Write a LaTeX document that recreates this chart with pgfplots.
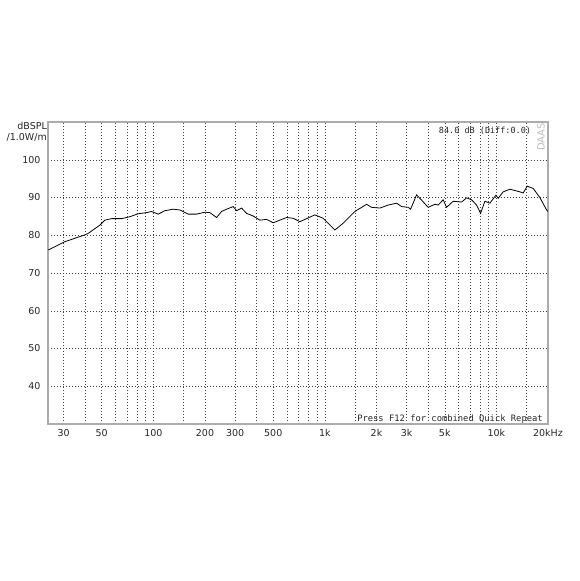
\documentclass[border=0pt]{standalone}
\usepackage{fontspec}
\setmainfont{DejaVu Sans}
\setmonofont{DejaVu Sans Mono}
\usepackage{pgfplots}
\pgfplotsset{compat=1.18}
\begin{document}
\begin{tikzpicture}
\path[use as bounding box, fill=white] (0,0) rectangle (580pt,581pt);
\begin{axis}[
  at={(48pt,157pt)}, anchor=south west,
  scale only axis, width=500pt, height=302pt,
  xmode=log, xmin=24.3, xmax=20000, ymin=30, ymax=110,
  log basis x=10,
  xtick={30,50,100,200,300,500,1000,2000,3000,5000,10000,20000},
  xticklabels={30,50,100,200,300,500,1k,2k,3k,5k,10k,20kHz},
  minor xtick={40,60,70,80,90,150,400,600,700,800,900,1500,4000,6000,7000,8000,9000,15000},
  ytick={40,50,60,70,80,90,100},
  major tick length=0pt, minor tick length=0pt,
  xmajorgrids, xminorgrids, ymajorgrids,
  grid style={black!75, line width=0.5pt, dash pattern=on 0.8pt off 2.2pt},
  minor grid style={black!75, line width=0.5pt, dash pattern=on 0.8pt off 2.2pt},
  axis line style={draw=gray!65, line width=1.6pt},
  tick label style={font=\fontsize{9.5}{10}\selectfont, text=black!85},
  /pgf/number format/assume math mode=true,
  yticklabel style={xshift=-4pt},
  xticklabel style={yshift=-2pt},
  clip=false,
]
\addplot[black, line width=0.8pt] coordinates {
(24.4,76.1) (30.5,78.3) (39.9,80.1) (41.7,80.5) (48.8,82.7) (52.1,84.0)
(57.1,84.4) (65.3,84.4) (72.9,84.9) (81.5,85.7) (91.3,86.0) (97.6,86.3)
(106.7,85.6) (116.7,86.5) (130.5,86.9) (142.7,86.7) (159.6,85.6) (178.6,85.6)
(199.7,86.1) (213.5,86.0) (233.6,84.7) (249.8,86.3) (267.2,86.9) (292,87.6)
(305.6,86.5) (326.8,87.2) (349.4,85.8) (382,85.1) (417.8,84.0) (457,84.2)
(499.4,83.3) (546.6,84.0) (597.9,84.7) (653.5,84.5) (714.9,83.6) (874.3,85.4)
(977.5,84.5) (1144,81.4) (1279,83.2) (1496,86.3) (1751,88.2) (1872,87.4)
(2093,87.2) (2339,88.0) (2619,88.5) (2801,87.6) (3060,87.4) (3160,86.9)
(3425,90.7) (3663,89.3) (4002,87.4) (4378,88.2) (4577,88.0) (4895,89.4)
(5123,87.4) (5600,89.0) (6268,88.8) (6704,89.9) (7168,89.4) (7664,88.0)
(8088,85.8) (8568,89.0) (9165,88.5) (9933,90.6) (10245,89.8) (10957,91.5)
(11986,92.2) (13709,91.5) (14333,91.2) (15121,93.0) (16392,92.4) (17930,90.0)
(19620,86.7) (19970,86.3)
};
\end{axis}
\node[anchor=east, font=\fontsize{9.5}{10}\selectfont, text=black!85, inner sep=0pt] at (47pt,455pt) {dBSPL};
\node[anchor=east, font=\fontsize{9.5}{10}\selectfont, text=black!85, inner sep=0pt] at (47pt,444pt) {/1.0W/m};
\node[font=\ttfamily\fontsize{8.5}{9}\selectfont, text=black!85, inner sep=0pt] at (485pt,450pt) {84.0 dB (Diff:0.0)};
\node[font=\ttfamily\fontsize{8.8}{9}\selectfont, text=black!85, inner sep=0pt] at (450pt,162pt) {Press F12 for combined Quick Repeat};
\node[rotate=90, font=\fontsize{10}{10}\selectfont, text=gray!50, inner sep=0pt] at (541pt,444pt) {DAAS};
\end{tikzpicture}
\end{document}
